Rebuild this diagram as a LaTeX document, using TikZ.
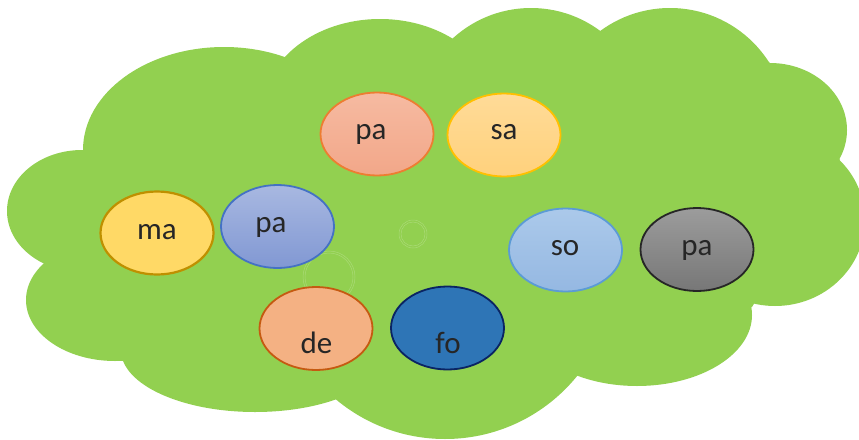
\documentclass[tikz,border=0pt]{standalone}
\usepackage{fontspec}
\setmainfont{Carlito}
\usetikzlibrary{shapes.geometric}
\definecolor{cloudgreen}{HTML}{92D050}
\definecolor{txt}{HTML}{262626}
\definecolor{paTopA}{HTML}{F6BAA1}
\definecolor{paTopB}{HTML}{F2A789}
\definecolor{paLine}{HTML}{ED7D31}
\definecolor{saA}{HTML}{FFDB98}
\definecolor{saB}{HTML}{FFD17C}
\definecolor{saLine}{HTML}{FFC000}
\definecolor{maFill}{HTML}{FFD966}
\definecolor{maLine}{HTML}{BF9000}
\definecolor{pbA}{HTML}{A8B8E1}
\definecolor{pbB}{HTML}{8198D3}
\definecolor{pbLine}{HTML}{4472C4}
\definecolor{soA}{HTML}{ABC9EA}
\definecolor{soB}{HTML}{95B8E2}
\definecolor{soLine}{HTML}{5B9BD5}
\definecolor{pgA}{HTML}{9C9C9C}
\definecolor{pgB}{HTML}{777777}
\definecolor{pgLine}{HTML}{262626}
\definecolor{deFill}{HTML}{F4B183}
\definecolor{deLine}{HTML}{C55A11}
\definecolor{foFill}{HTML}{2E75B6}
\definecolor{foLine}{HTML}{0A2463}
\begin{document}
\begin{tikzpicture}[x=1pt,y=-1pt,
  bubble/.style={ellipse, minimum width=113pt, minimum height=83pt, inner sep=0pt,
    line width=1.8pt},
  lbl/.style={font=\fontsize{31}{34}\selectfont, text=txt, inner sep=0pt, anchor=base},
  ring/.style={draw=white, opacity=0.22, line width=0.5pt}]
\useasboundingbox (0,0) rectangle (859,439);
\begin{scope}
\clip (0,0) rectangle (859,439);
% cloud body
\fill[cloudgreen] (83,150) -- (285,57) -- (452,39) -- (600,31) -- (769,62)
  -- (840,160) -- (752,307) -- (577,375) -- (335,399) -- (123,361) -- (47,263) -- cycle;
\fill[cloudgreen] (224,150) ellipse [x radius=141pt, y radius=103pt];
\fill[cloudgreen] (380,110) ellipse [x radius=117pt, y radius=91pt];
\fill[cloudgreen] (531,124) circle [radius=116pt];
\fill[cloudgreen] (670,125.5) circle [radius=117.5pt];
\fill[cloudgreen] (770,130) ellipse [x radius=77pt, y radius=67pt];
\fill[cloudgreen] (775,220) ellipse [x radius=90pt, y radius=86pt];
\fill[cloudgreen] (637,315) ellipse [x radius=115pt, y radius=71pt];
\fill[cloudgreen] (445,269) circle [radius=170pt];
\fill[cloudgreen] (255,350) ellipse [x radius=134pt, y radius=62pt];
\fill[cloudgreen] (115,300) ellipse [x radius=89pt, y radius=61pt];
\fill[cloudgreen] (82,211) ellipse [x radius=75pt, y radius=61pt];
\end{scope}
% faint rings
\draw[ring] (413,234) circle [radius=14pt];
\draw[ring] (413,234) circle [radius=12pt];
\draw[ring] (329,277) circle [radius=26pt];
\draw[ring] (329,277) circle [radius=24pt];
% bubbles
\node[bubble, draw=paLine, top color=paTopA, bottom color=paTopB] (pa1) at (377,134) {};
\node[lbl] (pa1t) at (371,139) {pa};
\node[bubble, draw=saLine, top color=saA, bottom color=saB] (sa) at (504,135) {};
\node[lbl] (sat) at (504,139) {sa};
\node[bubble, draw=maLine, fill=maFill, line width=2.2pt] (ma) at (157,233) {};
\node[lbl] (mat) at (157,239) {ma};
\node[bubble, draw=pbLine, top color=pbA, bottom color=pbB] (pa2) at (277.5,226.5) {};
\node[lbl] (pa2t) at (271,232) {pa};
\node[bubble, draw=soLine, top color=soA, bottom color=soB] (so) at (565.5,250) {};
\node[lbl] (sot) at (565,255) {so};
\node[bubble, draw=pgLine, top color=pgA, bottom color=pgB] (pa3) at (697,249.5) {};
\node[lbl] (pa3t) at (697,255) {pa};
\node[bubble, draw=deLine, fill=deFill] (de) at (316,328.5) {};
\node[lbl] (det) at (316.5,353) {de};
\node[bubble, draw=foLine, fill=foFill] (fo) at (447.5,328) {};
\node[lbl] (fot) at (448,353) {fo};
\end{tikzpicture}
\end{document}
